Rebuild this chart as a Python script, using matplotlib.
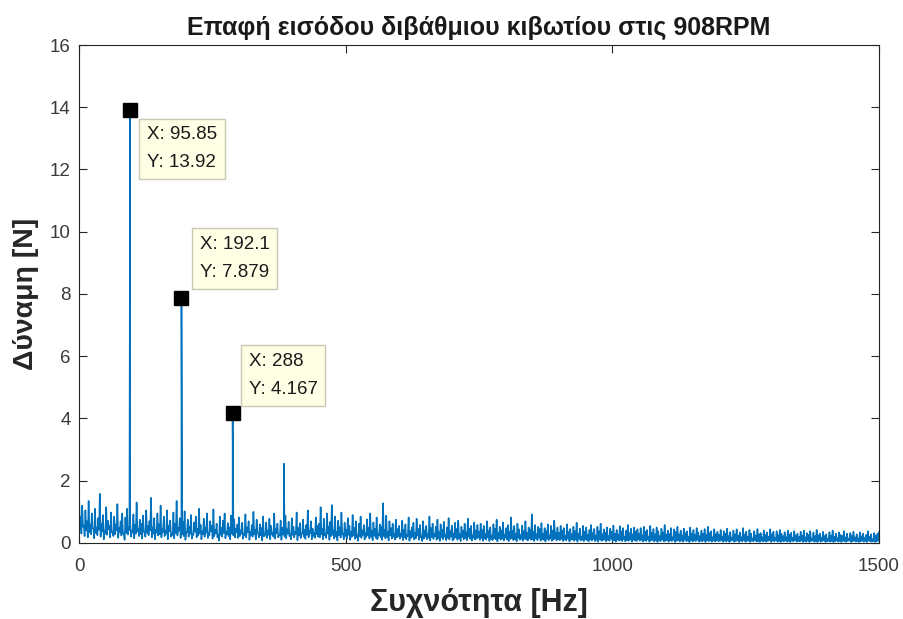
import numpy as np
import matplotlib
matplotlib.use("Agg")
import matplotlib.pyplot as plt

plt.rcParams['font.family'] = ['Liberation Sans', 'DejaVu Sans']

# Spectrum background: upper readings on 3 Hz bins (0..1500 Hz)
noise_0 = [1.72, 0.85, 1.20, 0.55, 1.05, 0.70, 1.35, 0.60, 0.95, 0.45,
           1.10, 0.50, 0.80, 1.58, 0.62, 0.90, 0.40, 1.15, 0.72, 0.55,
           0.98, 0.35, 0.85, 0.60, 1.25, 0.48, 0.70, 0.95, 0.30, 0.82,
           1.10, 0.52, 0.65, 0.40, 0.92, 0.58, 1.30, 0.45, 0.75, 0.62,
           0.88, 0.35, 1.05, 0.55, 0.70, 1.45, 0.50, 0.80, 0.42, 0.95]
noise_150 = [0.60, 1.20, 0.45, 0.85, 0.38, 1.05, 0.55, 0.72, 0.30, 0.98,
             0.62, 1.35, 0.48, 0.80, 0.40, 0.68, 1.02, 0.35, 0.75, 0.52,
             0.90, 0.28, 0.66, 0.85, 0.45, 1.10, 0.58, 0.38, 0.78, 0.50,
             0.95, 0.32, 0.70, 0.55, 1.08, 0.42, 0.62, 0.25, 0.85, 0.48,
             0.72, 0.95, 0.36, 0.64, 0.50, 0.88, 0.30, 0.76, 0.45, 0.60]
noise_300 = [0.82, 0.40, 0.65, 0.28, 0.92, 0.50, 0.70, 0.35, 0.58, 1.00,
             0.42, 0.75, 0.30, 0.60, 0.48, 0.85, 0.22, 0.66, 0.40, 0.78,
             0.55, 0.32, 0.95, 0.45, 0.62, 0.26, 0.72, 0.50, 0.38, 0.88,
             0.44, 0.68, 0.30, 0.80, 0.52, 0.36, 0.98, 0.48, 0.64, 0.28,
             0.75, 0.42, 0.58, 1.05, 0.38, 0.70, 0.46, 0.32, 0.82, 0.55]
noise_450 = [0.62, 1.15, 0.45, 0.78, 0.30, 0.95, 0.52, 0.68, 1.22, 0.40,
             0.85, 0.35, 0.72, 0.50, 0.98, 0.28, 0.65, 0.42, 0.80, 0.55,
             0.36, 0.90, 0.48, 0.70, 0.25, 0.62, 0.85, 0.40, 0.58, 0.32,
             0.76, 0.50, 0.95, 0.38, 0.66, 0.45, 0.82, 0.30, 0.60, 0.52,
             1.28, 0.42, 0.88, 0.35, 0.70, 0.48, 0.62, 0.28, 0.75, 0.45]
noise_600 = [0.55, 0.30, 0.72, 0.42, 0.60, 0.25, 0.82, 0.38, 0.50, 0.65,
             0.32, 0.78, 0.45, 0.58, 0.22, 0.70, 0.40, 0.55, 0.30, 0.85,
             0.48, 0.62, 0.28, 0.52, 0.75, 0.35, 0.60, 0.42, 0.68, 0.26,
             0.50, 0.80, 0.38, 0.56, 0.30, 0.65, 0.45, 0.72, 0.28, 0.52,
             0.40, 0.62, 0.34, 0.78, 0.46, 0.55, 0.24, 0.66, 0.40, 0.58]
noise_750 = [0.35, 0.62, 0.42, 0.55, 0.28, 0.70, 0.38, 0.50, 0.22, 0.60,
             0.45, 0.75, 0.32, 0.52, 0.40, 0.66, 0.26, 0.48, 0.58, 0.35,
             0.82, 0.40, 0.55, 0.30, 0.62, 0.44, 0.25, 0.56, 0.38, 0.70,
             0.32, 0.50, 0.42, 0.92, 0.36, 0.58, 0.28, 0.52, 0.45, 0.64,
             0.30, 0.48, 0.38, 0.60, 0.24, 0.55, 0.40, 0.72, 0.34, 0.50]
noise_900 = [0.32, 0.55, 0.40, 0.48, 0.22, 0.60, 0.35, 0.45, 0.28, 0.52,
             0.38, 0.65, 0.30, 0.46, 0.20, 0.55, 0.36, 0.50, 0.26, 0.42,
             0.58, 0.32, 0.45, 0.24, 0.52, 0.38, 0.62, 0.28, 0.44, 0.34,
             0.50, 0.22, 0.46, 0.36, 0.56, 0.30, 0.42, 0.26, 0.54, 0.38,
             0.48, 0.20, 0.40, 0.58, 0.32, 0.46, 0.28, 0.50, 0.36, 0.44]
noise_1050 = [0.30, 0.48, 0.24, 0.52, 0.36, 0.42, 0.20, 0.55, 0.32, 0.45,
              0.28, 0.50, 0.38, 0.22, 0.46, 0.34, 0.58, 0.26, 0.40, 0.30,
              0.48, 0.18, 0.44, 0.35, 0.52, 0.28, 0.40, 0.24, 0.46, 0.32,
              0.38, 0.20, 0.50, 0.30, 0.42, 0.26, 0.48, 0.34, 0.22, 0.40,
              0.30, 0.45, 0.25, 0.52, 0.32, 0.38, 0.18, 0.44, 0.28, 0.36]
noise_1200 = [0.26, 0.42, 0.20, 0.38, 0.30, 0.46, 0.22, 0.35, 0.16, 0.40,
              0.28, 0.44, 0.24, 0.34, 0.18, 0.48, 0.26, 0.36, 0.20, 0.42,
              0.30, 0.14, 0.38, 0.24, 0.45, 0.28, 0.32, 0.18, 0.40, 0.26,
              0.34, 0.20, 0.44, 0.28, 0.36, 0.15, 0.38, 0.25, 0.42, 0.30,
              0.22, 0.35, 0.18, 0.40, 0.27, 0.33, 0.16, 0.38, 0.24, 0.30]
noise_1350 = [0.20, 0.36, 0.24, 0.40, 0.18, 0.32, 0.26, 0.38, 0.14, 0.34,
              0.22, 0.42, 0.25, 0.30, 0.16, 0.36, 0.22, 0.28, 0.12, 0.35,
              0.24, 0.40, 0.20, 0.30, 0.15, 0.34, 0.26, 0.22, 0.38, 0.18,
              0.30, 0.12, 0.32, 0.24, 0.36, 0.18, 0.28, 0.14, 0.34, 0.22,
              0.30, 0.16, 0.26, 0.38, 0.20, 0.28, 0.12, 0.32, 0.24, 0.30, 0.36]

# Lower readings, half a bin later (1.5, 4.5, ... 1498.5 Hz)
floor_0 = [0.45, 0.30, 0.52, 0.22, 0.40, 0.18, 0.35, 0.28, 0.48, 0.15,
           0.32, 0.25, 0.42, 0.20, 0.38, 0.12, 0.30, 0.26, 0.44, 0.18,
           0.34, 0.22, 0.28, 0.40, 0.16, 0.36, 0.24, 0.30, 0.10, 0.32,
           0.27, 0.42, 0.20, 0.34, 0.15, 0.30, 0.38, 0.22, 0.28, 0.14,
           0.36, 0.20, 0.32, 0.25, 0.40, 0.18, 0.30, 0.12, 0.34, 0.24]
floor_150 = [0.28, 0.18, 0.35, 0.22, 0.30, 0.12, 0.38, 0.20, 0.26, 0.15,
             0.32, 0.24, 0.40, 0.16, 0.28, 0.22, 0.10, 0.34, 0.20, 0.30,
             0.14, 0.26, 0.36, 0.18, 0.24, 0.30, 0.12, 0.28, 0.20, 0.33,
             0.16, 0.25, 0.38, 0.14, 0.22, 0.30, 0.18, 0.08, 0.26, 0.20,
             0.32, 0.15, 0.28, 0.22, 0.12, 0.30, 0.24, 0.18, 0.35, 0.16]
floor_300 = [0.22, 0.30, 0.14, 0.26, 0.18, 0.34, 0.10, 0.24, 0.20, 0.28,
             0.12, 0.32, 0.18, 0.25, 0.08, 0.22, 0.30, 0.16, 0.26, 0.12,
             0.28, 0.20, 0.14, 0.32, 0.18, 0.24, 0.10, 0.27, 0.20, 0.15,
             0.30, 0.22, 0.12, 0.26, 0.18, 0.28, 0.09, 0.24, 0.16, 0.30,
             0.20, 0.13, 0.26, 0.18, 0.32, 0.12, 0.22, 0.16, 0.28, 0.20]
floor_450 = [0.18, 0.28, 0.12, 0.24, 0.16, 0.30, 0.10, 0.22, 0.26, 0.14,
             0.20, 0.08, 0.25, 0.17, 0.28, 0.12, 0.22, 0.15, 0.26, 0.10,
             0.20, 0.24, 0.13, 0.18, 0.07, 0.22, 0.16, 0.26, 0.11, 0.19,
             0.24, 0.14, 0.20, 0.09, 0.23, 0.16, 0.12, 0.25, 0.18, 0.10,
             0.22, 0.15, 0.19, 0.08, 0.24, 0.14, 0.20, 0.11, 0.17, 0.22]
floor_600 = [0.14, 0.20, 0.09, 0.18, 0.12, 0.22, 0.07, 0.16, 0.20, 0.11,
             0.15, 0.24, 0.10, 0.18, 0.06, 0.14, 0.20, 0.12, 0.17, 0.08,
             0.19, 0.13, 0.22, 0.10, 0.15, 0.07, 0.18, 0.12, 0.20, 0.09,
             0.16, 0.11, 0.21, 0.08, 0.14, 0.18, 0.10, 0.15, 0.06, 0.19,
             0.12, 0.16, 0.09, 0.20, 0.13, 0.08, 0.17, 0.11, 0.14, 0.18]
floor_750 = [0.10, 0.16, 0.07, 0.14, 0.11, 0.18, 0.06, 0.13, 0.09, 0.15,
             0.12, 0.05, 0.16, 0.10, 0.14, 0.08, 0.17, 0.11, 0.06, 0.13,
             0.15, 0.09, 0.12, 0.05, 0.16, 0.10, 0.13, 0.07, 0.14, 0.11,
             0.08, 0.15, 0.10, 0.12, 0.06, 0.14, 0.09, 0.16, 0.07, 0.12,
             0.10, 0.05, 0.13, 0.09, 0.15, 0.07, 0.11, 0.14, 0.08, 0.12]
floor_900 = [0.09, 0.13, 0.06, 0.11, 0.08, 0.14, 0.05, 0.10, 0.12, 0.07,
             0.11, 0.04, 0.13, 0.08, 0.10, 0.06, 0.12, 0.09, 0.05, 0.11,
             0.08, 0.13, 0.06, 0.10, 0.04, 0.12, 0.07, 0.09, 0.11, 0.05,
             0.10, 0.07, 0.13, 0.06, 0.09, 0.04, 0.11, 0.08, 0.10, 0.06,
             0.12, 0.05, 0.09, 0.07, 0.11, 0.04, 0.10, 0.08, 0.06, 0.12]
floor_1050 = [0.07, 0.10, 0.05, 0.09, 0.06, 0.11, 0.04, 0.08, 0.10, 0.05,
              0.09, 0.03, 0.08, 0.06, 0.11, 0.05, 0.07, 0.09, 0.04, 0.08,
              0.06, 0.10, 0.03, 0.07, 0.09, 0.05, 0.08, 0.04, 0.10, 0.06,
              0.07, 0.03, 0.09, 0.05, 0.08, 0.06, 0.10, 0.04, 0.07, 0.05,
              0.09, 0.03, 0.08, 0.06, 0.07, 0.04, 0.09, 0.05, 0.08, 0.06]
floor_1200 = [0.06, 0.09, 0.04, 0.07, 0.05, 0.08, 0.03, 0.07, 0.09, 0.04,
              0.06, 0.08, 0.03, 0.07, 0.05, 0.09, 0.04, 0.06, 0.08, 0.03,
              0.07, 0.05, 0.09, 0.04, 0.06, 0.03, 0.08, 0.05, 0.07, 0.04,
              0.06, 0.09, 0.03, 0.07, 0.05, 0.08, 0.04, 0.06, 0.03, 0.07,
              0.05, 0.08, 0.04, 0.06, 0.03, 0.07, 0.05, 0.09, 0.04, 0.06]
floor_1350 = [0.05, 0.08, 0.03, 0.06, 0.04, 0.07, 0.03, 0.06, 0.08, 0.04,
              0.05, 0.03, 0.07, 0.04, 0.06, 0.08, 0.03, 0.05, 0.07, 0.04,
              0.06, 0.03, 0.05, 0.08, 0.04, 0.06, 0.03, 0.07, 0.05, 0.04,
              0.06, 0.08, 0.03, 0.05, 0.07, 0.04, 0.06, 0.03, 0.05, 0.07,
              0.04, 0.06, 0.03, 0.08, 0.05, 0.04, 0.06, 0.03, 0.05, 0.07]

bin_step = 3.0

# Gear-mesh harmonics
peak_freq = [95.85, 192.1, 288.0, 384.0]
peak_amp = [13.92, 7.879, 4.167, 2.55]
# Harmonics carrying a data tip
tip_count = 3

# Axis settings
x_ticks = [0, 500, 1000, 1500]
y_ticks = [0, 2, 4, 6, 8, 10, 12, 14, 16]
title_text = "Επαφή εισόδου διβάθμιου κιβωτίου στις 908RPM"
x_label = "Συχνότητα [Hz]"
y_label = "Δύναμη [N]"

upper = np.concatenate([noise_0, noise_150, noise_300, noise_450, noise_600,
                        noise_750, noise_900, noise_1050, noise_1200, noise_1350])
lower = np.concatenate([floor_0, floor_150, floor_300, floor_450, floor_600,
                        floor_750, floor_900, floor_1050, floor_1200, floor_1350])
upper_freq = np.arange(len(upper)) * bin_step
lower_freq = np.arange(len(lower)) * bin_step + bin_step / 2

freq = np.concatenate([upper_freq, lower_freq, peak_freq])
amp = np.concatenate([upper, lower, peak_amp])
order = np.argsort(freq, kind="stable")
freq = freq[order]
amp = amp[order]

fig = plt.figure(figsize=(9.04, 6.19), dpi=100)
ax = fig.add_axes([0.0874, 0.1228, 0.8850, 0.8045])

ax.plot(freq, amp, color="#0072BD", linewidth=1.15)

ax.set_xlim(0, 1500)
ax.set_ylim(0, 16)
ax.set_xticks(x_ticks)
ax.set_yticks(y_ticks)
ax.tick_params(direction="in", length=6, width=0.8, top=True, right=True,
               labelsize=13.5, colors="#262626")
ax.tick_params(axis="both", labelcolor="#3a3a3a")
ax.tick_params(axis="x", pad=11)
ax.tick_params(axis="y", pad=6)
for s in ax.spines.values():
    s.set_linewidth(0.8)
    s.set_color("#262626")

ax.set_title(title_text, fontsize=18, fontweight="bold", color="#1a1a1a", pad=7)
ax.set_xlabel(x_label, fontsize=22, fontweight="bold", color="#262626", labelpad=9)
ax.set_ylabel(y_label, fontsize=20.5, fontweight="bold", color="#262626", labelpad=8)

# Data tips
tip_offsets = [(12, -12, "top"), (13, 12, "bottom"), (11.5, 11, "bottom")]
for i in range(tip_count):
    fx, fy = peak_freq[i], peak_amp[i]
    ax.plot([fx], [fy], marker="s", markersize=9.5, color="black", linestyle="none", zorder=5)
    dx, dy, va = tip_offsets[i]
    ax.annotate(f"X: {fx:.4g}\nY: {fy:.4g}", xy=(fx, fy), xytext=(dx, dy),
                textcoords="offset points", ha="left", va=va,
                fontsize=13.5, color="#1a1a1a", linespacing=1.85,
                bbox=dict(boxstyle="square,pad=0.42", facecolor="#FFFFE6",
                          edgecolor="#C8C8B4", linewidth=1.0), zorder=6)

fig.savefig("out.png", dpi=100)
